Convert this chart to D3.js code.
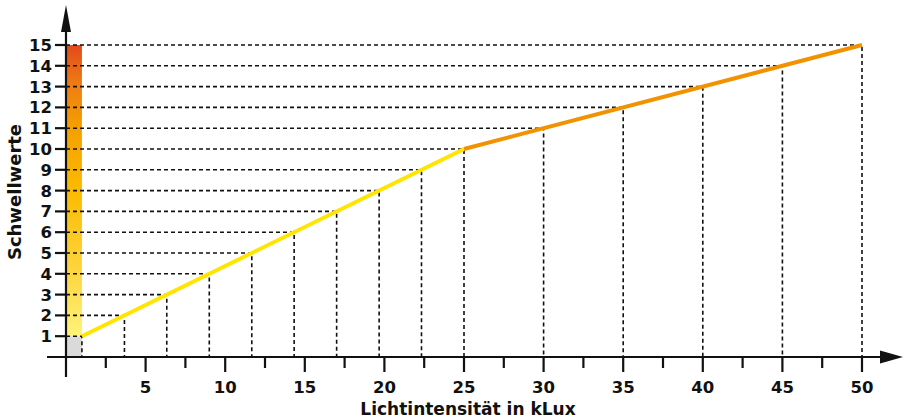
<!DOCTYPE html>
<html>
<head>
<meta charset="utf-8">
<title>Schwellwerte</title>
<style>
body { margin: 0; background: #fff; }
svg { display: block; font-family: 'DejaVu Sans', 'Liberation Sans', sans-serif; }
.tick-label { font-size: 16.5px; font-weight: bold; fill: #111; }
.axis-title { font-size: 17px; font-weight: bold; fill: #111; }
.guide { stroke: #111; stroke-width: 1.6; stroke-dasharray: 4 3; fill: none; }
.axis line, .axis path { stroke: #111; stroke-width: 2.2; }
</style>
</head>
<body>
<svg width="906" height="420"></svg>
<script src="https://cdn.jsdelivr.net/npm/d3@7"></script>
<script>
// Schwellwerte (threshold levels) and the light intensity (kLux) at which each is reached
var levels = [1, 2, 3, 4, 5, 6, 7, 8, 9, 10, 11, 12, 13, 14, 15];
var kLux   = [1, 3.67, 6.33, 9, 11.67, 14.33, 17, 19.67, 22.33, 25, 30, 35, 40, 45, 50];
// curve segments: [kLux, level]
var segYellow = [[1, 1], [25, 10]];
var segOrange = [[25, 10], [50, 15]];
var xMajor = [5, 10, 15, 20, 25, 30, 35, 40, 45, 50];
var xMinor = [2.5, 7.5, 12.5, 17.5, 22.5, 27.5, 32.5, 37.5, 42.5, 47.5];
// colour bar stops (level -> colour)
var barStops = [[1, "#fff37a"], [4, "#fdd640"], [8, "#fbbb00"], [11, "#f5a000"], [13, "#ef7f12"], [15, "#e4491b"]];

var svg = d3.select("svg");
var x = d3.scaleLinear().domain([0, 50]).range([66, 862]);
var y = d3.scaleLinear().domain([0, 15]).range([357, 45]);

var defs = svg.append("defs");
var grad = defs.append("linearGradient")
  .attr("id", "bar")
  .attr("gradientUnits", "userSpaceOnUse")
  .attr("x1", 0).attr("x2", 0)
  .attr("y1", y(1)).attr("y2", y(15));
grad.selectAll("stop").data(barStops).enter().append("stop")
  .attr("offset", function(d) { return (d[0] - 1) / 14; })
  .attr("stop-color", function(d) { return d[1]; });

// colour bar and grey base
svg.append("rect")
  .attr("x", x(0)).attr("y", y(15))
  .attr("width", x(1) - x(0)).attr("height", y(1) - y(15))
  .attr("fill", "url(#bar)");
svg.append("rect")
  .attr("x", x(0)).attr("y", y(1))
  .attr("width", x(1) - x(0)).attr("height", y(0) - y(1))
  .attr("fill", "#dadada");

// dashed guides
var pts = levels.map(function(l, i) { return [kLux[i], l]; });
svg.append("g").selectAll("path").data(pts).enter().append("path")
  .attr("class", "guide")
  .attr("d", function(d) {
    return "M" + x(0) + "," + y(d[1]) + "H" + x(d[0]) + "V" + y(0);
  });

// curve
var line = d3.line().x(function(d) { return x(d[0]); }).y(function(d) { return y(d[1]); });
svg.append("path").datum(segYellow).attr("d", line)
  .attr("fill", "none").attr("stroke", "#ffe500").attr("stroke-width", 4);
svg.append("path").datum(segOrange).attr("d", line)
  .attr("fill", "none").attr("stroke", "#f39200").attr("stroke-width", 4);

// axes
var ax = svg.append("g").attr("class", "axis");
ax.append("line").attr("x1", 47).attr("x2", 884).attr("y1", y(0)).attr("y2", y(0));
ax.append("line").attr("x1", x(0)).attr("x2", x(0)).attr("y1", 30).attr("y2", 377);
svg.append("path")
  .attr("d", "M" + 880 + "," + (y(0) - 6.5) + "L903," + y(0) + "L880," + (y(0) + 6.5) + "Z")
  .attr("fill", "#111");
svg.append("path")
  .attr("d", "M" + (x(0) - 5) + ",32L" + x(0) + ",5L" + (x(0) + 5) + ",32Z")
  .attr("fill", "#111");

// x ticks
ax.selectAll(".xmaj").data(xMajor).enter().append("line")
  .attr("x1", x).attr("x2", x).attr("y1", y(0)).attr("y2", y(0) + 15);
ax.selectAll(".xmin").data(xMinor).enter().append("line")
  .attr("x1", x).attr("x2", x).attr("y1", y(0)).attr("y2", y(0) + 11);
svg.selectAll(".xl").data(xMajor).enter().append("text")
  .attr("class", "tick-label")
  .attr("x", x).attr("y", 393)
  .attr("text-anchor", "middle")
  .text(function(d) { return d; });

// y ticks
ax.selectAll(".ymaj").data(levels).enter().append("line")
  .attr("x1", x(0) - 11).attr("x2", x(0)).attr("y1", y).attr("y2", y);
svg.selectAll(".yl").data(levels).enter().append("text")
  .attr("class", "tick-label")
  .attr("x", 52).attr("y", function(d) { return y(d) + 6; })
  .attr("text-anchor", "end")
  .text(function(d) { return d; });

// titles
svg.append("text").attr("class", "axis-title")
  .attr("x", 468).attr("y", 415)
  .attr("text-anchor", "middle")
  .text("Lichtintensität in kLux");
svg.append("text").attr("class", "axis-title")
  .attr("transform", "translate(21,192) rotate(-90)")
  .attr("text-anchor", "middle")
  .style("font-size", "18px")
  .text("Schwellwerte");
</script>
</body>
</html>
